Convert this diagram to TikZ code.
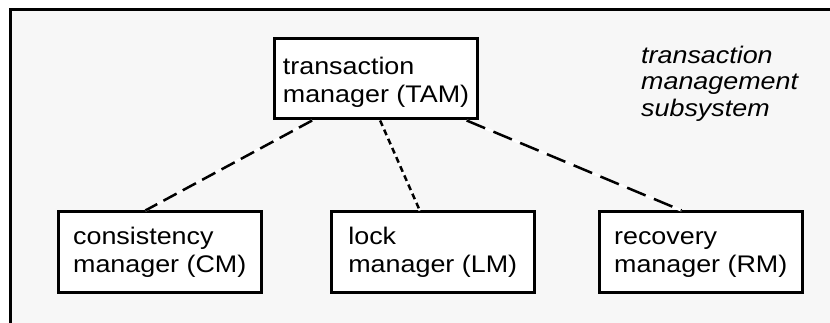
\documentclass[tikz,border=0pt]{standalone}
\usepackage{fontspec}
\setmainfont{Liberation Sans}[FakeStretch=1.12]
\usetikzlibrary{calc}

\definecolor{panel}{HTML}{F7F7F7}

% two-line, left-aligned label whose first baseline sits #1 above the box centre
\newcommand{\twolines}[3]{\raisebox{#1}[0pt][0pt]{\begin{tabular}[t]{@{}l@{}}#2\\#3\end{tabular}}}

\tikzset{
  modbox/.style={draw, line width=3pt, fill=white, inner sep=0pt,
    minimum width=203pt, minimum height=80pt,
    font=\fontsize{24}{28}\selectfont},
  link/.style={line width=2.5pt, preaction={draw=white, solid, line width=2.5pt}},
}

\begin{document}
\begin{tikzpicture}[x=1pt, y=-1pt]
\useasboundingbox (0,0) rectangle (830,323);
\fill[white] (0,0) rectangle (830,323);

% subsystem frame, running past the right and bottom edges
\begin{scope}
  \clip (0,0) rectangle (830,323);
  \draw[line width=3pt, fill=panel] (10.5,9.5) rectangle (845,340);
\end{scope}

% managers
\node[modbox] (tam) at (376,79)   {\twolines{4.5pt}{transaction}{manager (TAM)}};
\node[modbox] (cm)  at (159.75,252) {\twolines{7.5pt}{consistency}{manager (CM)}};
\node[modbox] (lm)  at (432.75,252) {\twolines{7.5pt}{lock}{manager (LM)}};
\node[modbox] (rm)  at (700.75,252) {\twolines{7.5pt}{recovery}{manager (RM)}};

% subsystem caption
\node[anchor=base west, inner sep=0pt, font=\fontsize{24}{26.7}\selectfont\itshape]
  (caption) at (641,63.3)
  {\begin{tabular}[t]{@{}l@{}}transaction\\management\\subsystem\end{tabular}};

% dashed links from the TAM to each manager
\draw[link, dash pattern=on 15pt off 7pt]
  ($(tam.south west)!0.19!(tam.south east)$) -- ($(cm.north west)!0.43!(cm.north east)$);
\draw[link, dash pattern=on 6pt off 4pt]
  ($(tam.south west)!0.52!(tam.south east)$) -- ($(lm.north west)!0.437!(lm.north east)$);
\draw[link, dash pattern=on 20pt off 9pt]
  ($(tam.south west)!0.94!(tam.south east)$) -- ($(rm.north west)!0.407!(rm.north east)$);
\end{tikzpicture}
\end{document}
